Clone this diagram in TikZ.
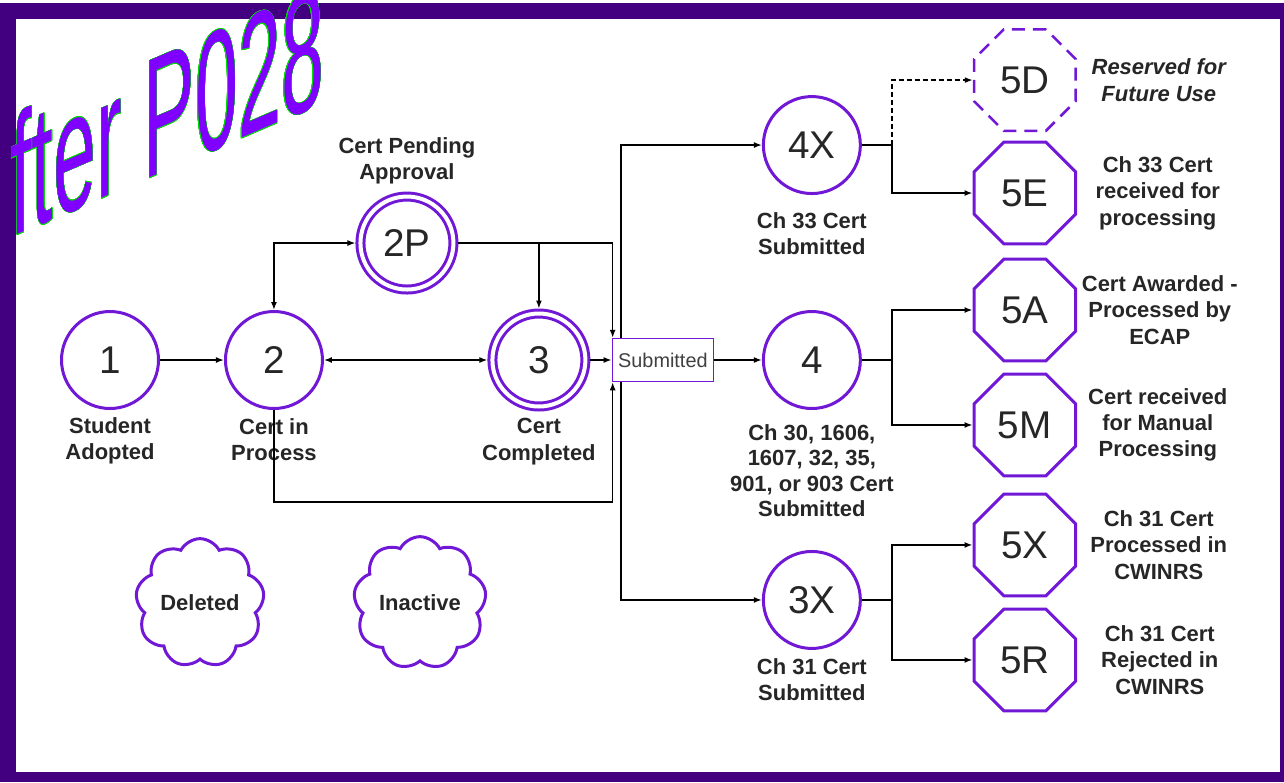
\documentclass[tikz,border=0pt]{standalone}
\usepackage{fontspec}
\setmainfont{Liberation Sans}
\usepackage{contour}
\usepackage{tikz}
\usetikzlibrary{arrows.meta, positioning, shapes.geometric, shapes.symbols}
\contourlength{0.12pt}
\definecolor{framepurple}{RGB}{66,0,128}
\definecolor{ringpurple}{RGB}{112,24,214}
\definecolor{stampviolet}{RGB}{128,0,255}
\definecolor{stampedge}{RGB}{0,220,0}

\begin{document}
\begin{tikzpicture}[
  x=0.02cm, y=-0.02cm,
  state/.style={circle, draw=ringpurple, line width=0.06cm, minimum size=1.94cm,
                inner sep=0pt, on grid, text=black!85, font=\fontsize{22pt}{24pt}\selectfont},
  final/.style={state, double=white, double distance=0.08cm, minimum size=1.86cm,
                outer sep=0.1cm},
  stop/.style={regular polygon, regular polygon sides=8, draw=ringpurple,
               line width=0.06cm, minimum size=2.2cm, inner sep=0pt, on grid,
               text=black!85, font=\fontsize{22pt}{24pt}\selectfont},
  reserved/.style={stop, line width=0.05cm, dash pattern=on 0.26cm off 0.16cm},
  tag/.style={align=center, inner sep=1pt, text=black!85,
              font=\bfseries\fontsize{12.5pt}{15pt}\selectfont},
  subbox/.style={draw=ringpurple, line width=0.03cm, fill=white, on grid,
                 minimum width=2.02cm, minimum height=0.86cm, inner sep=0pt,
                 text=black!75, font=\fontsize{11.3pt}{13pt}\selectfont},
  cloudy/.style={cloud, cloud puffs=9, cloud puff arc=125, aspect=1,
                 draw=ringpurple, line width=0.06cm, minimum width=2.45cm,
                 minimum height=2.45cm, inner sep=0pt, on grid, text=black!85,
                 font=\bfseries\fontsize{12.5pt}{14pt}\selectfont},
  stamp/.style={inner sep=0pt, text=stampviolet, yslant=0.43, yscale=2.2,
                font=\fontsize{44pt}{44pt}\selectfont},
  arrow/.style={-{Latex[length=1.6mm, width=1.2mm]}, line width=0.03cm},
  biarrow/.style={{Latex[length=1.6mm, width=1.2mm]}-{Latex[length=1.6mm, width=1.2mm]},
                  line width=0.03cm},
  link/.style={line width=0.03cm}
]
  \useasboundingbox (0,0) rectangle (1284,782);
  \clip (0,0) rectangle (1284,782);

  % frame
  \fill[framepurple] (0,3) rectangle (1284,782);
  \fill[white] (16,19) rectangle (1280,772);

  % left part
  \node[state] (one) at (110,360) {1};
  \node[state, right=3.28cm of one] (two) {2};
  \node[final, above right=2.34cm and 2.66cm of two] (twoP) {2P};
  \node[final, right=5.3cm of two] (three) {3};
  \node[subbox, right=2.48cm of three] (sub) {Submitted};

  \node[tag, below=0.1cm of one] (oneL) {Student\\Adopted};
  \node[tag, below=0.12cm of two] (twoL) {Cert in\\Process};
  \node[tag, above=0.1cm of twoP] (twoPL) {Cert Pending\\Approval};
  \node[tag, below=0.1cm of three] (threeL) {Cert\\Completed};

  % middle column
  \node[state, right=2.98cm of sub] (four) {4};
  \node[state, above=4.3cm of four] (fourX) {4X};
  \node[state, below=4.8cm of four] (threeX) {3X};

  \node[tag, below=0.3cm of fourX] (fourXL) {Ch 33 Cert\\Submitted};
  \node[tag, below=0.25cm of four, font=\bfseries\fontsize{12.5pt}{14.4pt}\selectfont]
        (fourL) {Ch 30, 1606,\\1607, 32, 35,\\901, or 903 Cert\\Submitted};
  \node[tag, below=0.13cm of threeX] (threeXL) {Ch 31 Cert\\Submitted};

  % end states
  \node[stop, above right=1cm and 4.26cm of four] (fiveA) {5A};
  \node[stop, above=2.34cm of fiveA] (fiveE) {5E};
  \node[reserved, above=2.26cm of fiveE] (fiveD) {5D};
  \node[stop, below=2.3cm of fiveA] (fiveM) {5M};
  \node[stop, below=2.4cm of fiveM] (fiveX) {5X};
  \node[stop, below=2.3cm of fiveX] (fiveR) {5R};

  \node[tag, font=\bfseries\itshape\fontsize{12.5pt}{15pt}\selectfont]
        (fiveDL) at ([xshift=2.68cm]fiveD) {Reserved for\\Future Use};
  \node[tag] (fiveEL) at ([xshift=2.66cm]fiveE) {Ch 33 Cert\\received for\\processing};
  \node[tag] (fiveAL) at ([xshift=2.7cm]fiveA) {Cert Awarded -\\Processed by\\ECAP};
  \node[tag] (fiveML) at ([xshift=2.66cm]fiveM) {Cert received\\for Manual\\Processing};
  \node[tag] (fiveXL) at ([xshift=2.68cm]fiveX) {Ch 31 Cert\\Processed in\\CWINRS};
  \node[tag] (fiveRL) at ([xshift=2.7cm]fiveR) {Ch 31 Cert\\Rejected in\\CWINRS};

  % other states
  \node[cloudy] (deleted) at (200,603) {Deleted};
  \node[cloudy, right=4.4cm of deleted] (inactive) {Inactive};

  % arrows, left part
  \draw[arrow] (one) -- (two);
  \draw[biarrow] (two) -- (three);
  \draw[biarrow] (two.north) |- (twoP);
  \draw[arrow] (twoP) -| ([xshift=0.02cm]sub.north west);
  \draw[arrow] (twoP.east -| three.north) -- (three);
  \draw[arrow] (three) -- (sub);
  \draw[arrow] (two.south) -- ++(0,92) -| ([xshift=0.02cm]sub.south west);

  % arrows, from submitted
  \draw[arrow] ([xshift=0.19cm]sub.north west) |- (fourX);
  \draw[arrow] ([xshift=0.19cm]sub.south west) |- (threeX);
  \draw[arrow] (sub) -- (four);

  % branches to end states
  \coordinate (fourXB) at ([xshift=0.6cm]fourX.east);
  \coordinate (fourB) at ([xshift=0.6cm]four.east);
  \coordinate (threeXB) at ([xshift=0.6cm]threeX.east);
  \draw[link] (fourX) -- (fourXB);
  \draw[arrow] (fourXB) |- (fiveE);
  \draw[arrow, dash pattern=on 0.1cm off 0.06cm] (fourXB) |- (fiveD);
  \draw[link] (four) -- (fourB);
  \draw[arrow] (fourB) |- (fiveA);
  \draw[arrow] (fourB) |- (fiveM);
  \draw[link] (threeX) -- (threeXB);
  \draw[arrow] (threeXB) |- (fiveX);
  \draw[arrow] (threeXB) |- (fiveR);

  % stamp
  \node[stamp, anchor=base west] (stampL) at (10,238) {\contour{stampedge}{fter P028}};
\end{tikzpicture}
\end{document}
